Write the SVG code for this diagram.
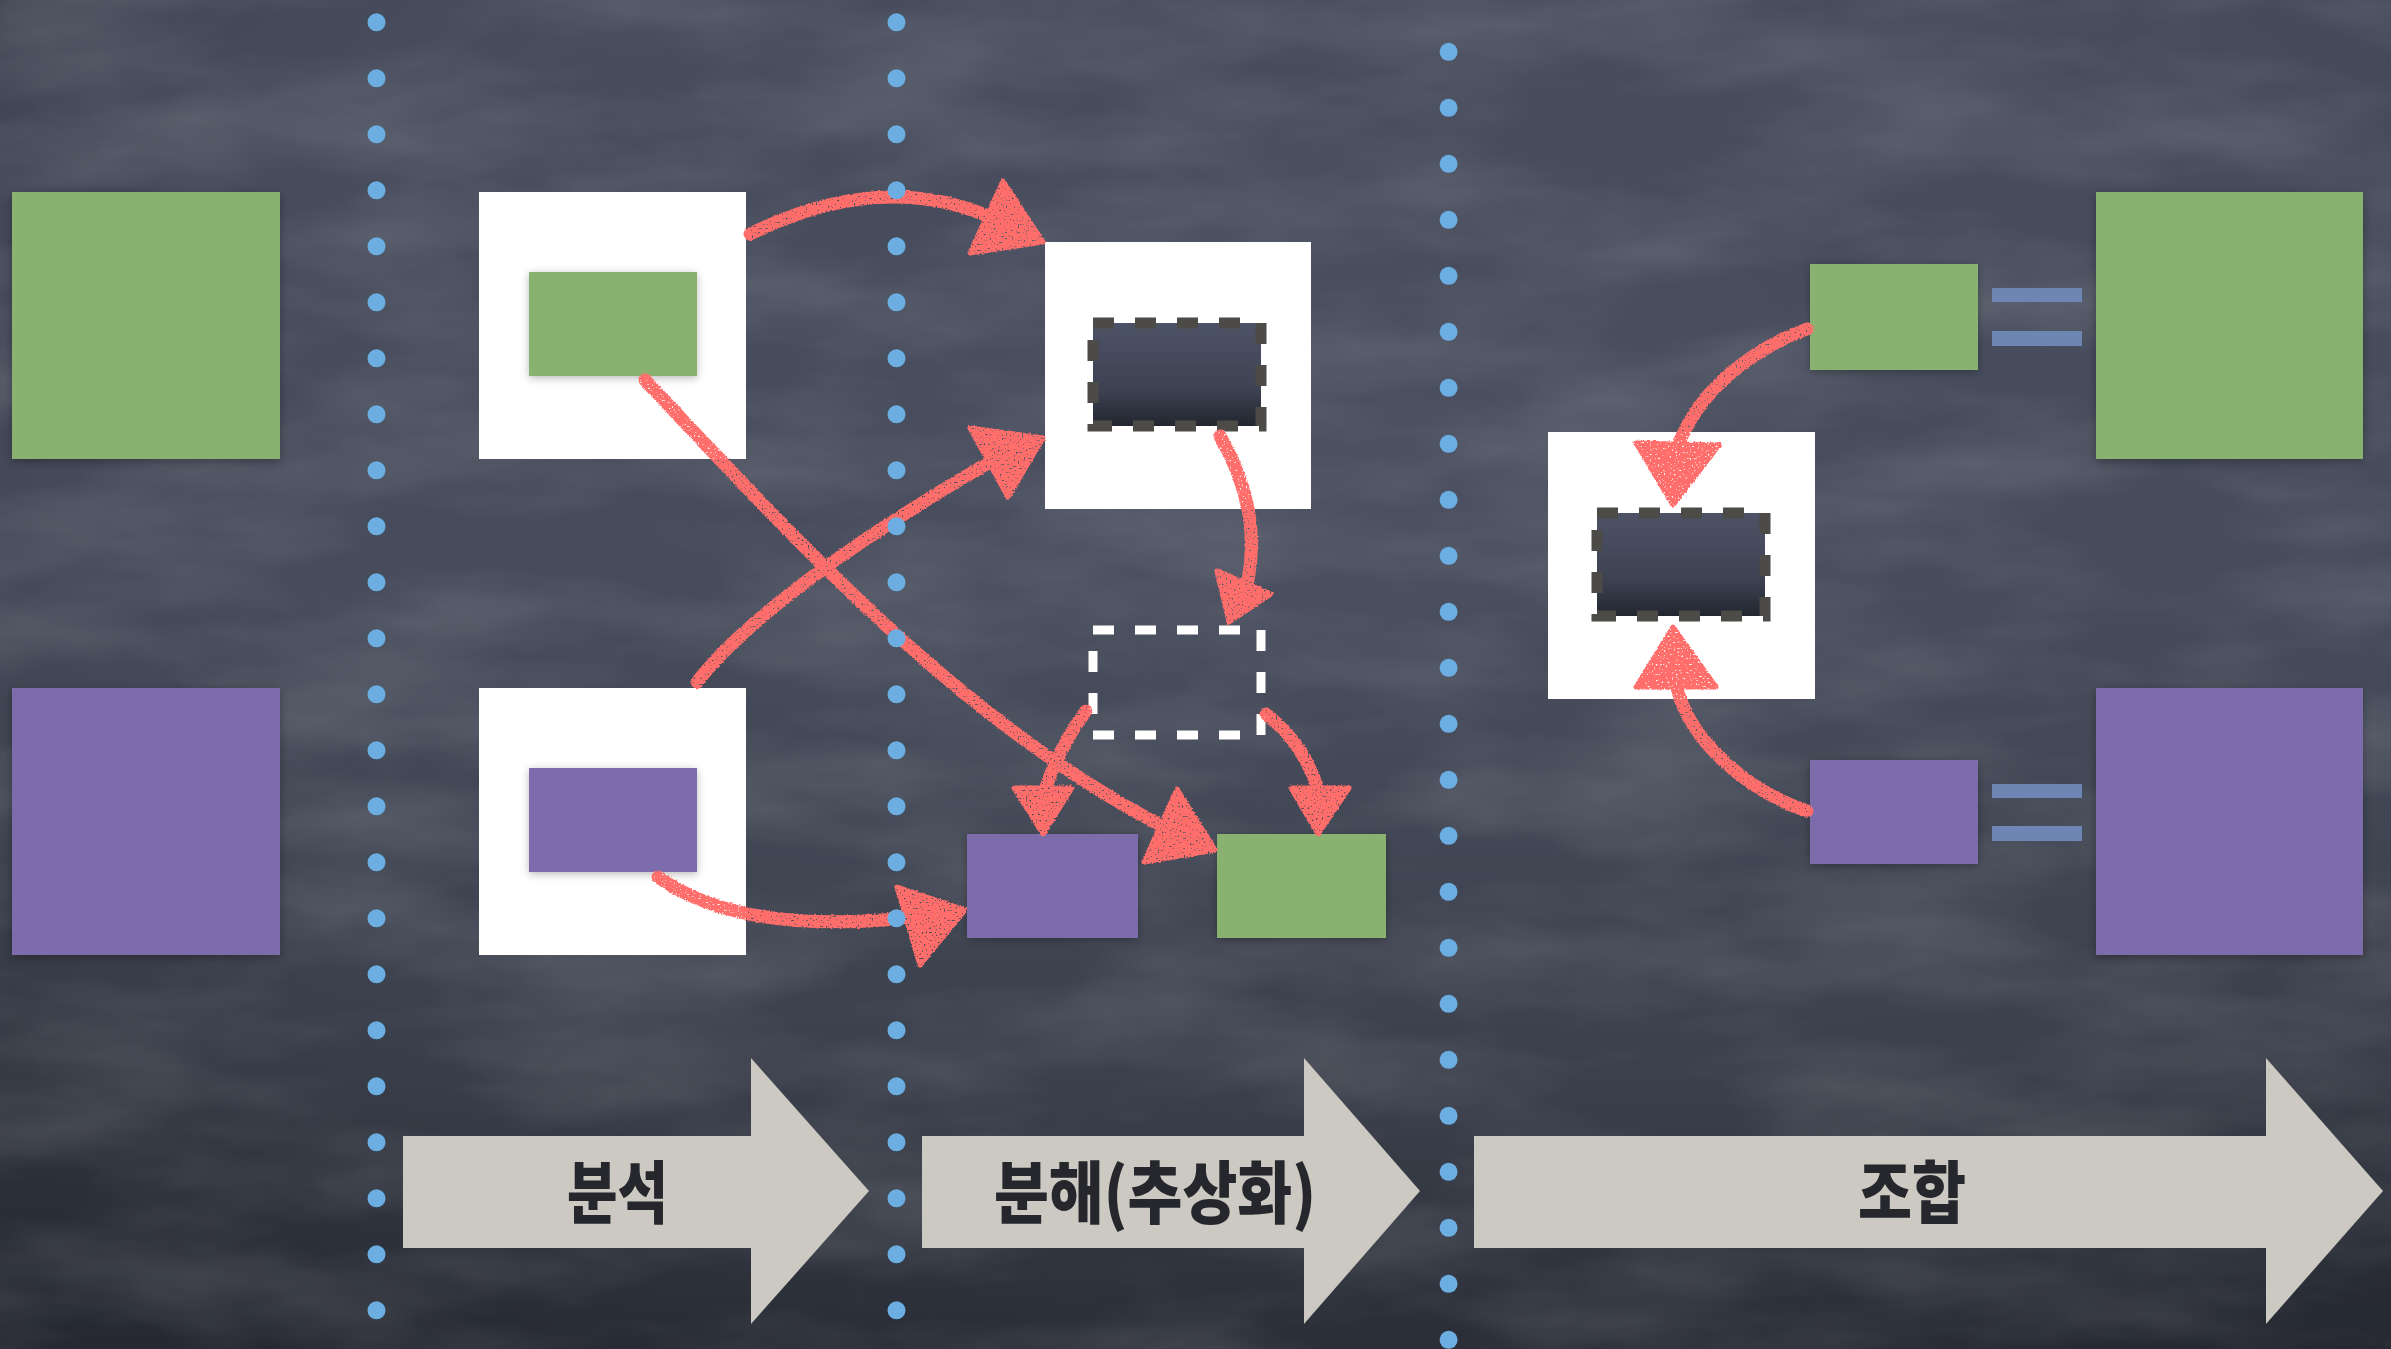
<svg xmlns="http://www.w3.org/2000/svg" width="2391" height="1349" viewBox="0 0 2391 1349">
<defs>
  <style>
    .green{fill:#89b170}
    .purple{fill:#7c6cac}
    .white{fill:#ffffff}
    .dot{fill:#6daee2}
    .eq{fill:#6d86b3}
    .bigarrow{fill:#cbc9c1}
    .label{font-family:"Noto Sans CJK KR","Noto Sans",sans-serif;font-weight:900;font-size:68px;fill:#26272c;text-anchor:middle}
    .chalk{fill:none;stroke:#ff6e6b;stroke-width:13;stroke-linecap:round}
    .head{fill:#ff6e6b;stroke:#ff6e6b;stroke-width:5;stroke-linejoin:round}
    .darkbox{fill:url(#boardInner);stroke:#4d4b47;stroke-width:11;stroke-dasharray:21 21}
    .ghost{fill:none;stroke:#ffffff;stroke-width:9;stroke-dasharray:21 21}
  </style>
  <linearGradient id="bg" x1="0" y1="0" x2="0" y2="1">
    <stop offset="0" stop-color="#474d5d"/>
    <stop offset="0.45" stop-color="#464c5b"/>
    <stop offset="0.8" stop-color="#3b404c"/>
    <stop offset="1" stop-color="#2b2f38"/>
  </linearGradient>
  <radialGradient id="vign" cx="0.55" cy="0.35" r="0.75">
    <stop offset="0" stop-color="#5a6073" stop-opacity="0.3"/>
    <stop offset="0.6" stop-color="#3a3f4c" stop-opacity="0"/>
    <stop offset="1" stop-color="#1c1f26" stop-opacity="0.4"/>
  </radialGradient>
  <linearGradient id="boardInner" x1="0" y1="0" x2="0" y2="1">
    <stop offset="0" stop-color="#4d5366"/>
    <stop offset="0.65" stop-color="#3d4252"/>
    <stop offset="1" stop-color="#22262f"/>
  </linearGradient>
  <filter id="grain" filterUnits="userSpaceOnUse" x="0" y="0" width="2391" height="1349">
    <feTurbulence type="fractalNoise" baseFrequency="0.004 0.012" numOctaves="4" seed="11"/>
    <feColorMatrix type="matrix" values="0 0 0 0 1  0 0 0 0 1  0 0 0 0 1  0.22 0 0 0 -0.08"/>
  </filter>
  <filter id="chalk" filterUnits="userSpaceOnUse" x="0" y="0" width="2391" height="1349">
    <feTurbulence type="fractalNoise" baseFrequency="0.5" numOctaves="2" seed="5" result="n"/>
    <feDisplacementMap in="SourceGraphic" in2="n" scale="3" xChannelSelector="R" yChannelSelector="G" result="d"/>
    <feColorMatrix in="n" type="matrix" values="0 0 0 0 0  0 0 0 0 0  0 0 0 0 0  -9 0 0 0 6.8" result="holes"/>
    <feComposite in="d" in2="holes" operator="in"/>
  </filter>
  <filter id="shadow" x="-20%" y="-20%" width="140%" height="150%">
    <feDropShadow dx="0" dy="3" stdDeviation="5" flood-color="#000000" flood-opacity="0.3"/>
  </filter>
  <filter id="softshadow" x="-20%" y="-20%" width="140%" height="150%">
    <feDropShadow dx="0" dy="2" stdDeviation="4" flood-color="#000000" flood-opacity="0.28"/>
  </filter>
</defs>

<!-- background -->
<rect x="0" y="0" width="2391" height="1349" fill="url(#bg)"/>
<rect x="0" y="0" width="2391" height="1349" fill="url(#vign)"/>
<rect x="0" y="0" width="2391" height="1349" fill="#ffffff" filter="url(#grain)"/>

<!-- left column -->
<g id="node-green-big-left"><rect class="green" x="12" y="192" width="268" height="267" filter="url(#shadow)"/></g>
<g id="node-purple-big-left"><rect class="purple" x="12" y="688" width="268" height="267" filter="url(#shadow)"/></g>

<!-- analysis column -->
<g id="node-analysis-green">
  <rect class="white" x="479" y="192" width="267" height="267"/>
  <rect class="green" x="529" y="272" width="168" height="104" filter="url(#softshadow)"/>
</g>
<g id="node-analysis-purple">
  <rect class="white" x="479" y="688" width="267" height="267"/>
  <rect class="purple" x="529" y="768" width="168" height="104" filter="url(#softshadow)"/>
</g>

<!-- decomposition column -->
<g id="node-abstract">
  <rect class="white" x="1045" y="242" width="266" height="267"/>
  <rect class="darkbox" x="1093" y="323" width="168" height="103"/>
</g>
<g id="node-placeholder">
  <rect class="ghost" x="1093" y="630" width="168" height="105"/>
</g>
<g id="node-purple-mid"><rect class="purple" x="967" y="834" width="171" height="104" filter="url(#softshadow)"/></g>
<g id="node-green-mid"><rect class="green" x="1217" y="834" width="169" height="104" filter="url(#softshadow)"/></g>

<!-- composition column -->
<g id="node-abstract-right">
  <rect class="white" x="1548" y="432" width="267" height="267"/>
  <rect class="darkbox" x="1597" y="513" width="168" height="103"/>
</g>
<g id="node-green-small-right"><rect class="green" x="1810" y="264" width="168" height="106" filter="url(#softshadow)"/></g>
<g id="node-purple-small-right"><rect class="purple" x="1810" y="760" width="168" height="104" filter="url(#softshadow)"/></g>
<g id="node-eq-green">
  <rect class="eq" x="1992" y="288" width="90" height="14"/>
  <rect class="eq" x="1992" y="331" width="90" height="15"/>
</g>
<g id="node-eq-purple">
  <rect class="eq" x="1992" y="784" width="90" height="14"/>
  <rect class="eq" x="1992" y="826" width="90" height="15"/>
</g>
<g id="node-green-big-right"><rect class="green" x="2096" y="192" width="267" height="267" filter="url(#shadow)"/></g>
<g id="node-purple-big-right"><rect class="purple" x="2096" y="688" width="267" height="267" filter="url(#shadow)"/></g>

<!-- connectors (red chalk arrows) -->
<g id="connectors" filter="url(#chalk)">
  <path class="chalk" d="M 750 234 Q 880 170 990 217"/>
  <polygon class="head" points="1003,181 1043,242 970,253"/>

  <path class="chalk" d="M 645 380 C 800 545, 960 720, 1160 825"/>
  <polygon class="head" points="1177,789 1215,850 1144,862"/>

  <path class="chalk" d="M 697 682 Q 770 590 990 462"/>
  <polygon class="head" points="970,428 1043,438 1008,497"/>

  <path class="chalk" d="M 658 877 Q 740 935 905 918"/>
  <polygon class="head" points="897,887 965,910 920,965"/>

  <path class="chalk" d="M 1220 436 C 1245 480, 1258 530, 1248 580"/>
  <polygon class="head" points="1217,571 1271,594 1229,622"/>

  <path class="chalk" d="M 1086 711 Q 1060 745 1045 790"/>
  <polygon class="head" points="1014,788 1072,788 1043,834"/>

  <path class="chalk" d="M 1266 714 Q 1305 745 1318 790"/>
  <polygon class="head" points="1291,788 1349,788 1318,834"/>

  <path class="chalk" d="M 1807 329 C 1750 350, 1700 390, 1678 445"/>
  <polygon class="head" points="1636,443 1719,445 1673,505"/>

  <path class="chalk" d="M 1807 811 C 1745 790, 1690 740, 1677 688"/>
  <polygon class="head" points="1636,687 1716,687 1673,627"/>
</g>

<!-- dotted separators -->
<g id="separators">
  <g id="sep1">
    <circle class="dot" cx="376.5" cy="22.3" r="9"/><circle class="dot" cx="376.5" cy="78.3" r="9"/><circle class="dot" cx="376.5" cy="134.3" r="9"/><circle class="dot" cx="376.5" cy="190.3" r="9"/><circle class="dot" cx="376.5" cy="246.3" r="9"/><circle class="dot" cx="376.5" cy="302.3" r="9"/><circle class="dot" cx="376.5" cy="358.3" r="9"/><circle class="dot" cx="376.5" cy="414.3" r="9"/><circle class="dot" cx="376.5" cy="470.3" r="9"/><circle class="dot" cx="376.5" cy="526.3" r="9"/><circle class="dot" cx="376.5" cy="582.3" r="9"/><circle class="dot" cx="376.5" cy="638.3" r="9"/><circle class="dot" cx="376.5" cy="694.3" r="9"/><circle class="dot" cx="376.5" cy="750.3" r="9"/><circle class="dot" cx="376.5" cy="806.3" r="9"/><circle class="dot" cx="376.5" cy="862.3" r="9"/><circle class="dot" cx="376.5" cy="918.3" r="9"/><circle class="dot" cx="376.5" cy="974.3" r="9"/><circle class="dot" cx="376.5" cy="1030.3" r="9"/><circle class="dot" cx="376.5" cy="1086.3" r="9"/><circle class="dot" cx="376.5" cy="1142.3" r="9"/><circle class="dot" cx="376.5" cy="1198.3" r="9"/><circle class="dot" cx="376.5" cy="1254.3" r="9"/><circle class="dot" cx="376.5" cy="1310.3" r="9"/>
  </g>
  <g id="sep2">
    <circle class="dot" cx="896.5" cy="22.3" r="9"/><circle class="dot" cx="896.5" cy="78.3" r="9"/><circle class="dot" cx="896.5" cy="134.3" r="9"/><circle class="dot" cx="896.5" cy="190.3" r="9"/><circle class="dot" cx="896.5" cy="246.3" r="9"/><circle class="dot" cx="896.5" cy="302.3" r="9"/><circle class="dot" cx="896.5" cy="358.3" r="9"/><circle class="dot" cx="896.5" cy="414.3" r="9"/><circle class="dot" cx="896.5" cy="470.3" r="9"/><circle class="dot" cx="896.5" cy="526.3" r="9"/><circle class="dot" cx="896.5" cy="582.3" r="9"/><circle class="dot" cx="896.5" cy="638.3" r="9"/><circle class="dot" cx="896.5" cy="694.3" r="9"/><circle class="dot" cx="896.5" cy="750.3" r="9"/><circle class="dot" cx="896.5" cy="806.3" r="9"/><circle class="dot" cx="896.5" cy="862.3" r="9"/><circle class="dot" cx="896.5" cy="918.3" r="9"/><circle class="dot" cx="896.5" cy="974.3" r="9"/><circle class="dot" cx="896.5" cy="1030.3" r="9"/><circle class="dot" cx="896.5" cy="1086.3" r="9"/><circle class="dot" cx="896.5" cy="1142.3" r="9"/><circle class="dot" cx="896.5" cy="1198.3" r="9"/><circle class="dot" cx="896.5" cy="1254.3" r="9"/><circle class="dot" cx="896.5" cy="1310.3" r="9"/>
  </g>
  <g id="sep3">
    <circle class="dot" cx="1448.6" cy="51.8" r="9"/><circle class="dot" cx="1448.6" cy="107.8" r="9"/><circle class="dot" cx="1448.6" cy="163.8" r="9"/><circle class="dot" cx="1448.6" cy="219.8" r="9"/><circle class="dot" cx="1448.6" cy="275.8" r="9"/><circle class="dot" cx="1448.6" cy="331.8" r="9"/><circle class="dot" cx="1448.6" cy="387.8" r="9"/><circle class="dot" cx="1448.6" cy="443.8" r="9"/><circle class="dot" cx="1448.6" cy="499.8" r="9"/><circle class="dot" cx="1448.6" cy="555.8" r="9"/><circle class="dot" cx="1448.6" cy="611.8" r="9"/><circle class="dot" cx="1448.6" cy="667.8" r="9"/><circle class="dot" cx="1448.6" cy="723.8" r="9"/><circle class="dot" cx="1448.6" cy="779.8" r="9"/><circle class="dot" cx="1448.6" cy="835.8" r="9"/><circle class="dot" cx="1448.6" cy="891.8" r="9"/><circle class="dot" cx="1448.6" cy="947.8" r="9"/><circle class="dot" cx="1448.6" cy="1003.8" r="9"/><circle class="dot" cx="1448.6" cy="1059.8" r="9"/><circle class="dot" cx="1448.6" cy="1115.8" r="9"/><circle class="dot" cx="1448.6" cy="1171.8" r="9"/><circle class="dot" cx="1448.6" cy="1227.8" r="9"/><circle class="dot" cx="1448.6" cy="1283.8" r="9"/><circle class="dot" cx="1448.6" cy="1339.8" r="9"/>
  </g>
</g>

<!-- phase arrows -->
<g id="phase-analysis">
  <polygon class="bigarrow" points="403,1136 751,1136 751,1058 869,1191 751,1324 751,1248 403,1248"/>
  <text class="label" x="617.5" y="1218" textLength="101" lengthAdjust="spacingAndGlyphs">분석</text>
</g>
<g id="phase-decomposition">
  <polygon class="bigarrow" points="922,1136 1304,1136 1304,1058 1420,1191 1304,1324 1304,1248 922,1248"/>
  <text class="label" x="1155" y="1218" textLength="322" lengthAdjust="spacingAndGlyphs">분해(추상화)</text>
</g>
<g id="phase-composition">
  <polygon class="bigarrow" points="1474,1136 2266,1136 2266,1058 2383,1191 2266,1324 2266,1248 1474,1248"/>
  <text class="label" x="1912" y="1218" textLength="108" lengthAdjust="spacingAndGlyphs">조합</text>
</g>
</svg>
